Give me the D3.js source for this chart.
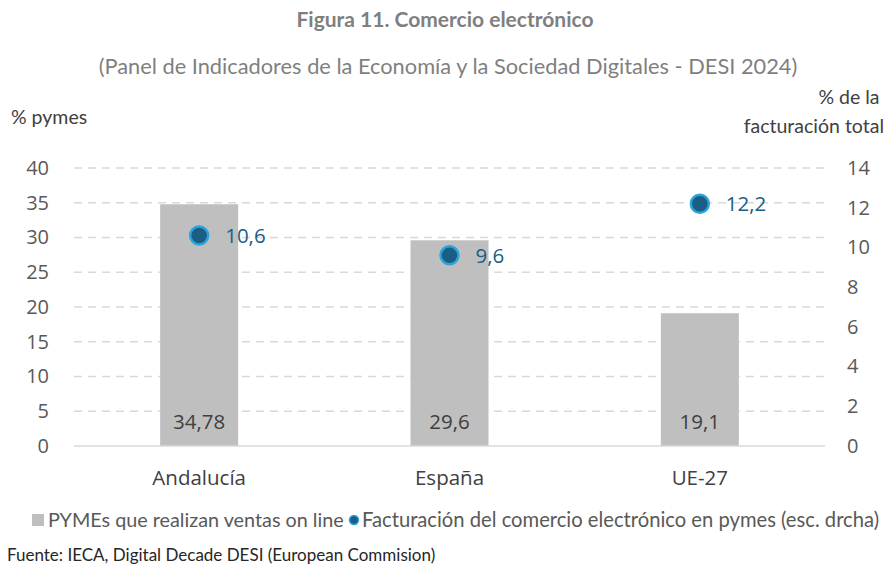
<!DOCTYPE html>
<html lang="es">
<head>
<meta charset="utf-8">
<script src="https://cdn.jsdelivr.net/npm/d3@7"></script>
<style>
  body { margin: 0; background: #fff; }
  text { font-family: "Open Sans", sans-serif; }
</style>
</head>
<body>
<div id="chart"></div>
<script>
// Data
var categories = ["Andalucía", "España", "UE-27"];
var pymesVentas = [34.78, 29.6, 19.1];          // left axis, bars
var pymesLabels = ["34,78", "29,6", "19,1"];
var facturacion = [10.6, 9.6, 12.2];             // right axis, dots
var factLabels = ["10,6", "9,6", "12,2"];
var leftTicks = [0, 5, 10, 15, 20, 25, 30, 35, 40];
var rightTicks = [0, 2, 4, 6, 8, 10, 12, 14];

var W = 887, H = 567;
var plot = { left: 74, right: 825, top: 168, bottom: 446 };

var svg = d3.select("#chart").append("svg")
  .attr("width", W).attr("height", H);

var x = d3.scaleBand().domain(categories).range([plot.left, plot.right]).paddingInner(0).paddingOuter(0);
var yL = d3.scaleLinear().domain([0, 40]).range([plot.bottom, plot.top]);
var yR = d3.scaleLinear().domain([0, 14]).range([plot.bottom, plot.top]);

// Title
svg.append("text").attr("x", 445).attr("y", 27).attr("text-anchor", "middle")
  .style("font-family", "Lato, sans-serif").style("font-weight", "bold")
  .style("font-size", "21px").attr("fill", "#7f7f7f")
  .text("Figura 11. Comercio electrónico");
svg.append("text").attr("x", 448).attr("y", 74).attr("text-anchor", "middle")
  .style("font-family", "Lato, sans-serif")
  .style("font-size", "21.8px").attr("fill", "#7f7f7f")
  .text("(Panel de Indicadores de la Economía y la Sociedad Digitales - DESI 2024)");

// Axis titles
svg.append("text").attr("x", 11).attr("y", 124)
  .style("font-family", "Lato, sans-serif").style("font-size", "19.5px").attr("fill", "#404040")
  .text("% pymes");
svg.append("text").attr("x", 849).attr("y", 104).attr("text-anchor", "middle")
  .style("font-family", "Lato, sans-serif").style("font-size", "19.5px").attr("fill", "#404040")
  .text("% de la");
svg.append("text").attr("x", 884).attr("y", 133).attr("text-anchor", "end")
  .style("font-family", "Lato, sans-serif").style("font-size", "19.5px").attr("fill", "#404040")
  .text("facturación total");

// Gridlines
svg.append("g").selectAll("line")
  .data(leftTicks.filter(d => d > 0))
  .join("line")
  .attr("x1", plot.left).attr("x2", plot.right)
  .attr("y1", d => yL(d)).attr("y2", d => yL(d))
  .attr("stroke", "#d9d9d9").attr("stroke-width", 1.5)
  .attr("stroke-dasharray", "8,6");

// Left axis
var leftAxis = svg.append("g")
  .attr("transform", "translate(" + plot.left + ",0)")
  .call(d3.axisLeft(yL).tickValues(leftTicks).tickSize(0).tickPadding(25));
leftAxis.select(".domain").remove();
leftAxis.selectAll("text").style("font-size", "20px").attr("fill", "#595959");

// Right axis
var rightAxis = svg.append("g")
  .attr("transform", "translate(" + plot.right + ",0)")
  .call(d3.axisRight(yR).tickValues(rightTicks).tickSize(0).tickPadding(22));
rightAxis.select(".domain").remove();
rightAxis.selectAll("text").style("font-size", "20px").attr("fill", "#595959");

// Bars
var barW = 78;
svg.append("g").selectAll("rect")
  .data(categories)
  .join("rect")
  .attr("x", d => x(d) + x.bandwidth() / 2 - barW / 2)
  .attr("width", barW)
  .attr("y", (d, i) => yL(pymesVentas[i]))
  .attr("height", (d, i) => yL(0) - yL(pymesVentas[i]))
  .attr("fill", "#bfbfbf");

// Baseline
svg.append("line")
  .attr("x1", plot.left).attr("x2", plot.right)
  .attr("y1", yL(0)).attr("y2", yL(0))
  .attr("stroke", "#d9d9d9").attr("stroke-width", 1.5);

// Bar labels
svg.append("g").selectAll("text")
  .data(categories)
  .join("text")
  .attr("x", d => x(d) + x.bandwidth() / 2)
  .attr("y", yL(0) - 17)
  .attr("text-anchor", "middle")
  .style("font-size", "20.5px").attr("fill", "#404040")
  .text((d, i) => pymesLabels[i]);

// Category labels
svg.append("g").selectAll("text")
  .data(categories)
  .join("text")
  .attr("x", d => x(d) + x.bandwidth() / 2)
  .attr("y", 485)
  .attr("text-anchor", "middle")
  .style("font-size", "20.5px").attr("fill", "#404040")
  .text(d => d);

// Dots
svg.append("g").selectAll("circle")
  .data(categories)
  .join("circle")
  .attr("cx", d => x(d) + x.bandwidth() / 2)
  .attr("cy", (d, i) => yR(facturacion[i]))
  .attr("r", 9)
  .attr("fill", "#1b5e83")
  .attr("stroke", "#2aa4dc").attr("stroke-width", 2.5);

svg.append("g").selectAll("text")
  .data(categories)
  .join("text")
  .attr("x", d => x(d) + x.bandwidth() / 2 + 26)
  .attr("y", (d, i) => yR(facturacion[i]) + 7.5)
  .style("font-size", "20.5px").attr("fill", "#1b5e83")
  .text((d, i) => factLabels[i]);

// Legend
var leg = svg.append("g");
leg.append("rect").attr("x", 32).attr("y", 514).attr("width", 12).attr("height", 12).attr("fill", "#bfbfbf");
leg.append("text").attr("x", 48).attr("y", 527)
  .style("font-family", "Lato, sans-serif").style("font-size", "19.8px").attr("fill", "#595959")
  .text("PYMEs que realizan ventas on line");
leg.append("circle").attr("cx", 354).attr("cy", 520).attr("r", 4.5)
  .attr("fill", "#1b5e83").attr("stroke", "#2aa4dc").attr("stroke-width", 1.5);
leg.append("text").attr("x", 362).attr("y", 527)
  .style("font-family", "Lato, sans-serif").style("font-size", "20.2px").attr("fill", "#595959")
  .text("Facturación del comercio electrónico en pymes (esc. drcha)");

// Source
svg.append("text").attr("x", 7).attr("y", 561)
  .style("font-family", "Lato, sans-serif").style("font-size", "17px").attr("fill", "#262626")
  .text("Fuente: IECA, Digital Decade DESI (European Commision)");
</script>
</body>
</html>
